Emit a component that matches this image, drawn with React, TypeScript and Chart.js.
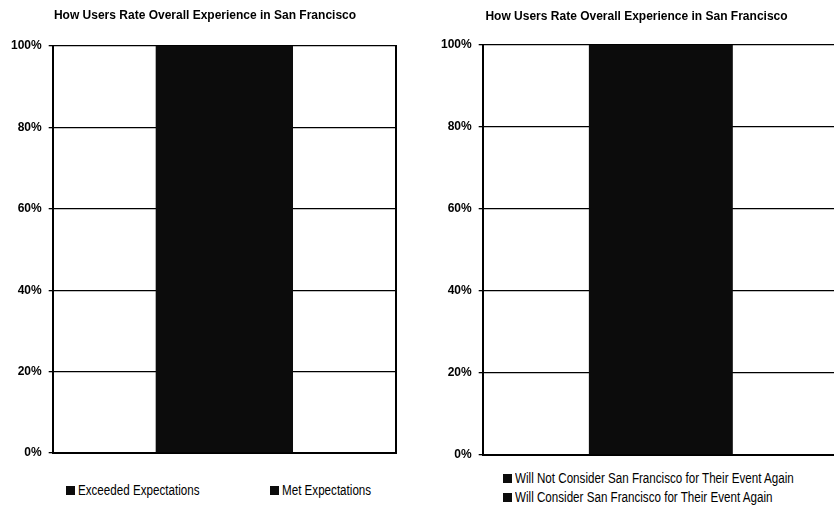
import React, { useEffect, useRef } from 'react';
import { Chart, registerables } from 'chart.js';

Chart.register(...registerables);

// ---- data ----
const chartTitle = 'How Users Rate Overall Experience in San Francisco';
const categories = [''];
const yTickValues = [0, 20, 40, 60, 80, 100];

const leftSeriesNames = ['Exceeded Expectations', 'Met Expectations'];
const exceededValues = [100];
const metValues = [0];

const rightSeriesNames = [
  'Will Not Consider San Francisco for Their Event Again',
  'Will Consider San Francisco for Their Event Again',
];
const willNotConsiderValues = [0];
const willConsiderValues = [100];

const seriesColors = ['#0c0c0c', '#0c0c0c'];

const FONT = "'Liberation Sans', Arial, sans-serif";
const LEGEND_FONT = "'Liberation Sans Narrow', 'Arial Narrow', 'Liberation Sans', Arial, sans-serif";

type PanelProps = {
  left: number;
  width: number;
  height: number;
  names: string[];
  values: number[][];
  pad: { left: number; right: number; top: number; bottom: number };
  titlePad: { top: number; bottom: number };
  rightBorder: boolean;
  barPct: number;
};

function BarPanel(p: PanelProps) {
  const ref = useRef<HTMLCanvasElement>(null);
  useEffect(() => {
    const scales: any = {
      x: {
        stacked: true,
        grid: { display: false, drawTicks: false },
        ticks: { display: false },
        border: { display: true, color: '#000', width: 2 },
      },
      y: {
        stacked: true,
        min: 0,
        max: 100,
        afterBuildTicks: (scale: any) => {
          scale.ticks = yTickValues.map((v) => ({ value: v }));
        },
        ticks: {
          padding: 7,
          color: '#000',
          font: { family: FONT, size: 12, weight: 'bold' },
          callback: (v: any) => v + '%',
        },
        grid: { color: '#000', lineWidth: 1.3, tickLength: 4 },
        border: { display: true, color: '#000', width: 2 },
      },
    };
    if (p.rightBorder) {
      scales.y2 = {
        position: 'right',
        display: true,
        grid: { display: false, drawTicks: false },
        ticks: { display: false },
        border: { display: true, color: '#000', width: 2 },
        afterFit: (scale: any) => {
          scale.width = 10;
        },
      };
    }
    const chart = new Chart(ref.current!, {
      type: 'bar',
      data: {
        labels: categories,
        datasets: p.names.map((n, i) => ({
          label: n,
          data: p.values[i],
          backgroundColor: seriesColors[i],
          borderWidth: 0,
          barPercentage: p.barPct,
          categoryPercentage: 1,
          yAxisID: 'y',
        })),
      },
      options: {
        responsive: false,
        animation: false,
        devicePixelRatio: 1,
        layout: { padding: p.pad },
        scales,
        plugins: {
          legend: { display: false },
          tooltip: { enabled: false },
          title: {
            display: true,
            text: chartTitle,
            color: '#000',
            font: { family: FONT, size: 12, weight: 'bold' },
            padding: p.titlePad,
          },
        },
      },
    });
    return () => chart.destroy();
  }, []);
  return (
    <canvas
      ref={ref}
      width={p.width}
      height={p.height}
      style={{ position: 'absolute', left: p.left, top: 0, width: p.width, height: p.height }}
    />
  );
}

function LegendItem({ x, y, text, color }: { x: number; y: number; text: string; color: string }) {
  return (
    <div
      style={{
        position: 'absolute',
        left: x,
        top: y - 8,
        height: 16,
        display: 'flex',
        alignItems: 'center',
        whiteSpace: 'nowrap',
        font: `14px ${LEGEND_FONT}`,
        color: '#000',
      }}
    >
      <span style={{ display: 'inline-block', width: 9, height: 9, background: color, marginRight: 3 }} />
      <span style={{ display: 'inline-block', transform: 'scaleX(0.83)', transformOrigin: 'left center' }}>
        {text}
      </span>
    </div>
  );
}

export default function App() {
  return (
    <div
      style={{
        position: 'absolute',
        left: 0,
        top: 0,
        width: 834,
        height: 510,
        overflow: 'hidden',
        background: '#fff',
      }}
    >
      <BarPanel
        left={0}
        width={420}
        height={470}
        names={leftSeriesNames}
        values={[exceededValues, metValues]}
        pad={{ left: 4, right: 14, top: 0, bottom: 17 }}
        titlePad={{ top: 8, bottom: 23.6 }}
        rightBorder={true}
        barPct={0.4}
      />
      <BarPanel
        left={420}
        width={430}
        height={470}
        names={rightSeriesNames}
        values={[willNotConsiderValues, willConsiderValues]}
        pad={{ left: 14, right: 11, top: 0, bottom: 15 }}
        titlePad={{ top: 9, bottom: 21.6 }}
        rightBorder={false}
        barPct={0.404}
      />
      <LegendItem x={66} y={490} text={leftSeriesNames[0]} color={seriesColors[0]} />
      <LegendItem x={270} y={490} text={leftSeriesNames[1]} color={seriesColors[1]} />
      <LegendItem x={503} y={478} text={rightSeriesNames[0]} color={seriesColors[0]} />
      <LegendItem x={503} y={497} text={rightSeriesNames[1]} color={seriesColors[1]} />
    </div>
  );
}
